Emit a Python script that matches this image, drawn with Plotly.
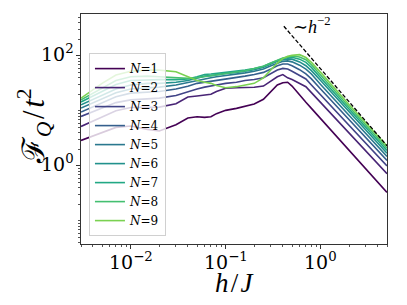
import math
import plotly.graph_objects as go

h = [0.003, 0.005, 0.007, 0.01, 0.015, 0.02, 0.03, 0.04, 0.05, 0.06, 0.07, 0.08,
     0.1, 0.13, 0.16, 0.2, 0.25, 0.3, 0.35, 0.4, 0.45, 0.5, 0.6, 0.7, 0.8, 1.0, 2.0, 5.0]

F1 = [2.9, 4.0, 5.0, 5.3, 4.6, 4.3, 5.6, 7.4, 7.8, 7.6, 7.8, 8.9,
      10.2, 11.1, 12.0, 13.3, 16.2, 22.6, 29.5, 32.4, 33.1, 28.2, 19.1, 14.3, 11.1, 7.2, 1.92, 0.33]
F2 = [5.2, 7.6, 10.0, 11.5, 11.7, 11.7, 13.5, 17.8, 18.6, 19.5, 20.0, 22.4,
      25.7, 26.3, 26.6, 26.9, 28.2, 34.7, 41.7, 45.7, 39.8, 37.2, 31.6, 27.5, 21.4, 14.1, 3.93, 0.72]
F3 = [7.9, 11.2, 14.1, 15.8, 16.6, 17.0, 19.0, 22.4, 25.0, 27.0, 28.0, 29.5,
      31.6, 33.0, 35.5, 37.0, 40.0, 48.0, 55.0, 59.0, 57.5, 52.5, 44.7, 38.0, 29.5, 19.5, 5.4, 1.0]
F4 = [9.5, 14.0, 18.0, 21.0, 22.0, 22.4, 25.0, 28.0, 31.6, 33.0, 34.0, 35.5,
      38.0, 40.0, 42.7, 45.7, 50.0, 57.5, 66.0, 70.8, 70.8, 66.0, 56.0, 46.8, 38.0, 25.0, 6.9, 1.25]
F5 = [11.2, 16.6, 21.4, 25.0, 26.3, 27.0, 29.5, 33.0, 36.0, 38.0, 40.0, 41.7,
      43.7, 45.7, 49.0, 52.5, 57.5, 66.0, 74.0, 79.4, 81.0, 77.6, 67.6, 57.5, 46.8, 30.2, 8.2, 1.48]
F6 = [12.9, 19.5, 25.0, 29.5, 31.6, 31.6, 33.0, 35.5, 40.0, 42.7, 43.7, 45.7,
      47.9, 50.0, 52.5, 56.0, 61.7, 70.8, 79.4, 85.0, 88.0, 87.0, 77.6, 66.0, 53.7, 35.5, 9.5, 1.7]
F7 = [14.5, 22.9, 30.2, 35.5, 37.0, 37.0, 37.0, 38.0, 41.7, 45.7, 46.8, 47.9,
      50.0, 52.5, 55.0, 59.0, 64.6, 74.0, 83.0, 89.0, 93.0, 94.4, 87.0, 75.9, 61.7, 39.8, 10.7, 1.9]
F8 = [15.8, 26.3, 35.5, 41.7, 42.7, 41.7, 40.0, 38.9, 40.0, 41.7, 43.7, 44.7,
      46.8, 50.0, 53.7, 59.0, 64.6, 74.0, 83.0, 91.0, 95.5, 99.0, 95.5, 85.0, 69.0, 44.7, 11.7, 2.1]
F9 = [17.0, 31.6, 44.7, 52.5, 55.0, 55.0, 51.3, 41.7, 35.5, 33.0, 31.6, 28.8,
      26.3, 27.5, 29.5, 31.6, 39.8, 56.0, 74.0, 89.0, 97.7, 102.0, 105.0, 93.0, 76.0, 50.0, 12.9, 2.3]

series = [F1, F2, F3, F4, F5, F6, F7, F8, F9]
names = ["<i>N</i>=%d" % k for k in range(1, 10)]
colors = ["#440154", "#482475", "#414487", "#355f8d", "#2a788e",
          "#21918c", "#22a884", "#44bf70", "#7ad151"]

dash_h = [0.41, 5.0]
dash_F = [345.0, 2.32]

x_ticks = [0.01, 0.1, 1.0]
x_ticktext = ["10<sup>−2</sup>", "10<sup>−1</sup>", "10<sup>0</sup>"]
y_ticks = [1.0, 100.0]
y_ticktext = ["10<sup>0</sup>", "10<sup>2</sup>"]

SERIF = "Liberation Serif, DejaVu Serif, serif"
TICKSERIF = "DejaVu Serif, Liberation Serif, serif"

fig = go.Figure()
for F, nm, c in zip(series, names, colors):
    fig.add_trace(go.Scatter(x=h, y=F, mode="lines", name=nm,
                             line=dict(color=c, width=1.6)))
fig.add_trace(go.Scatter(x=dash_h, y=dash_F, mode="lines", showlegend=False,
                         line=dict(color="black", width=1.3, dash="4px,2px")))

fig.add_annotation(x=-0.316, y=2.56, xref="x", yref="y", text="∼<i>h</i><sup>−2</sup>",
                   showarrow=False, xanchor="left", yanchor="middle",
                   font=dict(family=SERIF, size=18, color="black"))

# tick labels (placed at the axis tick values)
for v, t in zip(x_ticks, x_ticktext):
    fig.add_annotation(x=math.log10(v), y=0, xref="x", yref="paper", text=t,
                       showarrow=False, xanchor="center", yanchor="top", yshift=-3,
                       font=dict(family=TICKSERIF, size=19, color="black"))
for v, t in zip(y_ticks, y_ticktext):
    fig.add_annotation(x=0, y=math.log10(v), xref="paper", yref="y", text=t,
                       showarrow=False, xanchor="right", yanchor="middle",
                       xshift=-5, yshift=3,
                       font=dict(family=TICKSERIF, size=19, color="black"))

# axis titles
fig.add_annotation(x=0.503, y=-0.1696, xref="paper", yref="paper",
                   text="<i>h</i>\u200a/\u200a<i>J</i>", showarrow=False,
                   xanchor="center", yanchor="middle",
                   font=dict(family=SERIF, size=27, color="black"))
fig.add_annotation(x=-0.151, y=0.511, xref="paper", yref="paper", textangle=-90,
                   text="ℱ<sub><i>Q</i></sub>\u200a/\u200a<i>t</i><sup>2</sup>", showarrow=False,
                   xanchor="center", yanchor="middle",
                   font=dict(family=SERIF, size=31, color="black"))

x_minor = [k * 10.0 ** e for e in range(-3, 1) for k in range(2, 10)]
x_minor = [v for v in x_minor if 0.003 <= v <= 5]
y_minor = [k * 10.0 ** e for e in range(-2, 3) for k in range(1, 10)]
y_minor = [v for v in y_minor if v not in (1.0, 100.0)]

# the page body adds an 8px margin, so the figure is 391x289 and sits at (8, 8)
fig.update_layout(
    width=391, height=289,
    margin=dict(l=73, r=12, t=6, b=53, autoexpand=False),
    paper_bgcolor="white", plot_bgcolor="white",
    font=dict(family=SERIF, color="black"),
    showlegend=True,
    legend=dict(x=0.026, y=0.83, xanchor="left", yanchor="top",
                bgcolor="rgba(255,255,255,0.8)", bordercolor="#d0d0d0", borderwidth=1,
                font=dict(family=TICKSERIF, size=12, color="black"),
                tracegroupgap=0, itemwidth=30),
    xaxis=dict(type="log", range=[-2.523, 0.699], showgrid=False, zeroline=False,
               automargin=False,
               showline=True, linecolor="#333", linewidth=1, mirror=True,
               tickmode="array", tickvals=x_ticks, showticklabels=False,
               ticks="outside", ticklen=4, tickcolor="#333",
               minor=dict(tickmode="array", tickvals=x_minor, ticks="outside",
                          ticklen=2, tickcolor="#555", showgrid=False)),
    yaxis=dict(type="log", range=[-1.42, 2.76], showgrid=False, zeroline=False,
               automargin=False,
               showline=True, linecolor="#333", linewidth=1, mirror=True,
               tickmode="array", tickvals=y_ticks, showticklabels=False,
               ticks="outside", ticklen=4, tickcolor="#333",
               minor=dict(tickmode="array", tickvals=y_minor, ticks="outside",
                          ticklen=2, tickcolor="#555", showgrid=False)),
)

fig.write_html("out.html")
